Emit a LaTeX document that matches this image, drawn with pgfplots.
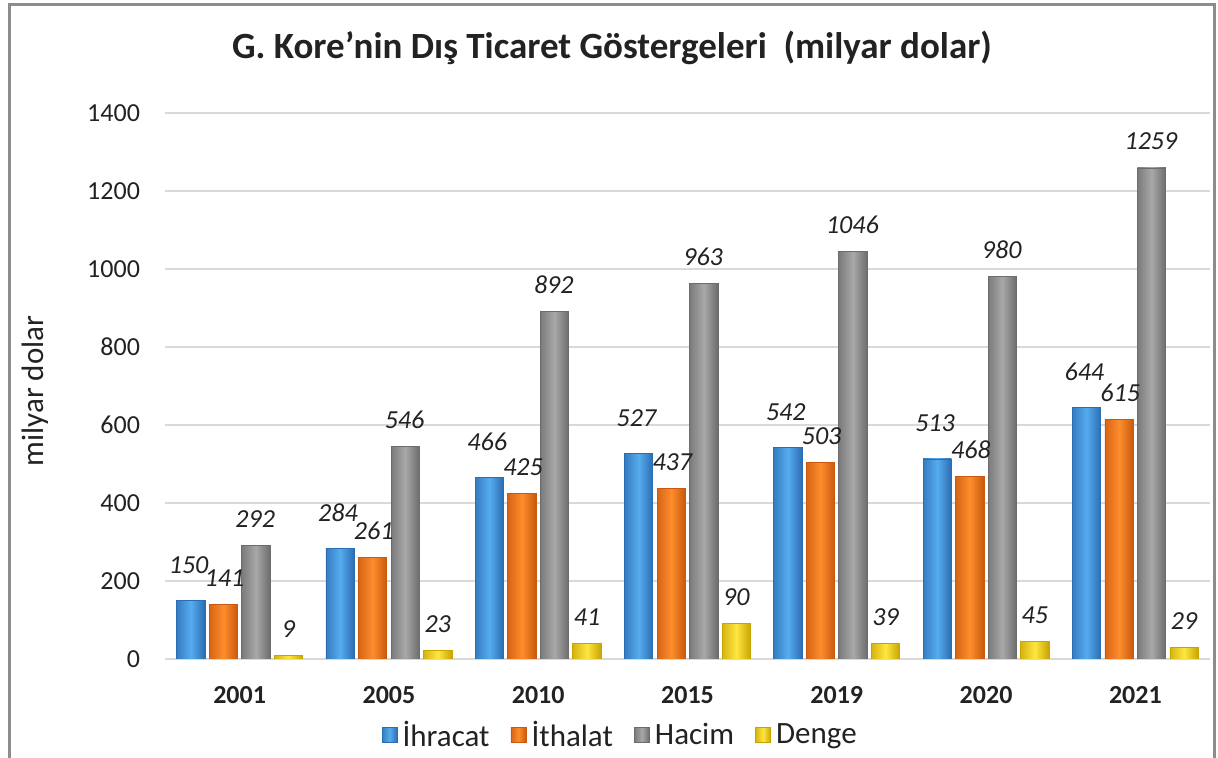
\documentclass[border=0pt]{standalone}
\usepackage{fontspec}
\setmainfont{Carlito}
\usepackage{pgfplots}
\usepackage{pgfplotstable}
\pgfplotsset{compat=1.18}
\definecolor{bluemid}{HTML}{55ACEE}
\definecolor{bluedark}{HTML}{2C6CB2}
\definecolor{orgmid}{HTML}{FF8C2C}
\definecolor{orgdark}{HTML}{C8590E}
\definecolor{graymid}{HTML}{A8A8A8}
\definecolor{graydark}{HTML}{6C6C6C}
\definecolor{yelmid}{HTML}{FFE640}
\definecolor{yeldark}{HTML}{C8A400}
\definecolor{gridc}{HTML}{D9D9D9}
\definecolor{labc}{HTML}{222222}
\pgfplotstableread{
x  ihr  ith  hac   den
0  150  141  292   9
1  284  261  546   23
2  466  425  892   41
3  527  437  963   90
4  542  503  1046  39
5  513  468  980   45
6  644  615  1259  29
}\data
\pgfplotsset{
  cIhr/.style={draw=bluedark, left color=bluedark!75!bluemid, right color=bluedark, middle color=bluemid},
  cIth/.style={draw=orgdark, left color=orgdark!75!orgmid, right color=orgdark, middle color=orgmid},
  cHac/.style={draw=graydark, left color=graydark!75!graymid, right color=graydark, middle color=graymid},
  cDen/.style={draw=yeldark, left color=yeldark!75!yelmid, right color=yeldark, middle color=yelmid},
}
\begin{document}
\begin{tikzpicture}
\useasboundingbox (0pt,0pt) rectangle (609pt,379pt);
\draw[line width=1.5pt, color=black!45] (4.5pt,-5pt) -- (4.5pt,376.5pt) -- (607pt,376.5pt) -- (607pt,-5pt);
\node[font=\bfseries\fontsize{18.5}{22}\selectfont, text=labc] at (306pt,355pt) {G. Kore'nin Dış Ticaret Göstergeleri\ \ (milyar dolar)};
\node[font=\fontsize{15.5}{18}\selectfont, rotate=90, text=labc] at (17.5pt,183.5pt) {milyar dolar};
\begin{axis}[
  at={(82.5pt,49.5pt)}, anchor=south west,
  scale only axis, width=522.5pt, height=273pt,
  xmin=-0.5, xmax=6.5, ymin=0, ymax=1400,
  ytick={0,200,...,1400},
  xtick={0,1,2,3,4,5,6},
  xticklabels={2001,2005,2010,2015,2019,2020,2021},
  /pgf/number format/assume math mode=true,
  /pgf/number format/1000 sep={},
  axis line style={draw=none},
  major tick length=0pt,
  ymajorgrids, grid style={gridc, line width=0.8pt},
  yticklabel style={font=\fontsize{13}{15}\selectfont, text=labc, xshift=-9pt},
  xticklabel style={font=\bfseries\fontsize{13}{15}\selectfont, text=labc, yshift=-10pt},
  legend style={at={(rel axis cs:0.437,-0.139)}, anchor=center, draw=none, fill=none,
    legend columns=-1, font=\fontsize{15.5}{18}\selectfont, text=labc,
    /tikz/every even column/.append style={column sep=8pt},
    nodes={inner xsep=2.5pt}},
  legend image code/.code={\draw[#1] (0pt,-3.7pt) rectangle (7.6pt,3.9pt);},
  nodes near coords,
  every node near coord/.append style={font=\itshape\fontsize{13}{15}\selectfont, text=labc, anchor=base, yshift=9pt},
]
\pgfplotsinvokeforeach{0,...,6}{
\addplot[ybar, forget plot, bar width=0.19, bar shift=-0.327, cIhr, restrict x to domain=#1:#1,
  every node near coord/.append style={yshift=4.5pt, xshift=-25.5pt}]
  table[x=x, y=ihr] {\data};
\addplot[ybar, forget plot, bar width=0.19, bar shift=-0.109, cIth, restrict x to domain=#1:#1,
  every node near coord/.append style={xshift=-7.6pt}]
  table[x=x, y=ith] {\data};
\addplot[ybar, forget plot, bar width=0.19, bar shift=0.109, cHac, restrict x to domain=#1:#1,
  every node near coord/.append style={xshift=7.8pt}]
  table[x=x, y=hac] {\data};
\addplot[ybar, forget plot, bar width=0.19, bar shift=0.327, cDen, restrict x to domain=#1:#1,
  every node near coord/.append style={xshift=24.4pt}]
  table[x=x, y=den] {\data};
}
\addlegendimage{cIhr}\addlegendentry{İhracat}
\addlegendimage{cIth}\addlegendentry{İthalat}
\addlegendimage{cHac}\addlegendentry{Hacim}
\addlegendimage{cDen}\addlegendentry{Denge}
\end{axis}
\end{tikzpicture}
\end{document}
